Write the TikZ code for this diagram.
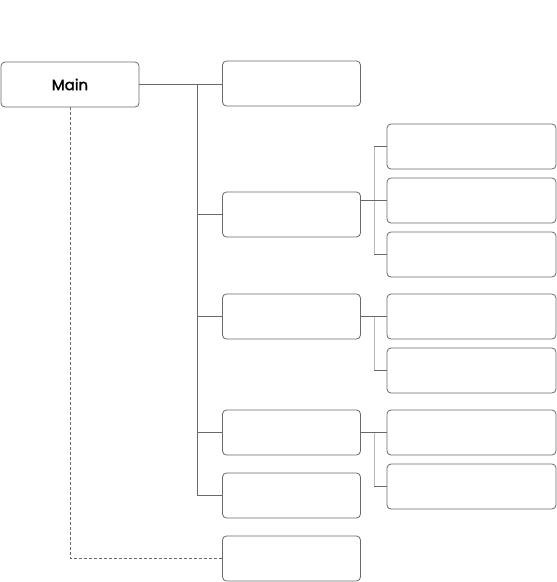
\documentclass[tikz,border=0pt]{standalone}
\usepackage{fontspec}
\setmainfont{Poppins}
\newfontface\mainlabel{Poppins}[RawFeature={embolden=1.6}]
\usetikzlibrary{positioning}
\definecolor{cLine}{RGB}{105,105,105}
\definecolor{cBar}{RGB}{185,185,185}

\begin{document}
\begin{tikzpicture}[
    x=1pt, y=-1pt,
    box/.style={rectangle,rounded corners=4pt,draw=cLine,fill=white,line width=0.8pt,inner sep=0pt,minimum width=138pt,minimum height=45pt},
    widebox/.style={box,minimum width=169pt},
    link/.style={draw=cLine,line width=0.8pt},
    bar/.style={draw=cBar,line width=1pt},
  ]
  \useasboundingbox (0,0) rectangle (557,582);
  % Main
  \node[box,font=\mainlabel\fontsize{15}{17}\selectfont] (main) at (70,84.5) {Main};
  % First level
  \foreach \i/\y in {1/83.5, 2/214.5, 3/316.5, 4/432.5, 5/495.5, 6/558.5} {
    \node[box] (s\i) at (291.5,\y) {};
  }
  % Second level
  \foreach \n/\y in {2a/146.5, 2b/200.5, 2c/254.5, 3a/316.5, 3b/370.5, 4a/432.5, 4b/486.5} {
    \node[widebox] (s\n) at (471.5,\y) {};
  }
  % Trunk
  \coordinate (trunk) at (197,84.5);
  \draw[link] (main.east) -- (main.east -| s1.west);
  \draw[link] (trunk) |- (s5.west);
  \foreach \i in {2,3,4} {
    \draw[link] (trunk |- s\i.west) -- (s\i.west);
  }
  % Branches
  \coordinate (fork) at (374,0);
  \draw[bar] (fork |- s2a.west) -- (fork |- s2c.west);
  \draw[bar] (fork |- s3a.west) -- (fork |- s3b.west);
  \draw[bar] (fork |- s4a.west) -- (fork |- s4b.west);
  \draw[link] (s2.east |- s2b.west) -- (s2b.west);
  \draw[link] (s3.east) -- (s3a.west);
  \draw[link] (s4.east) -- (s4a.west);
  \foreach \n in {2a,2c,3b,4b} {
    \draw[link] (fork |- s\n.west) -- (s\n.west);
  }
  % Dashed link
  \draw[link,dash pattern=on 3pt off 2pt] (main.south) |- (s6.west);
\end{tikzpicture}
\end{document}
